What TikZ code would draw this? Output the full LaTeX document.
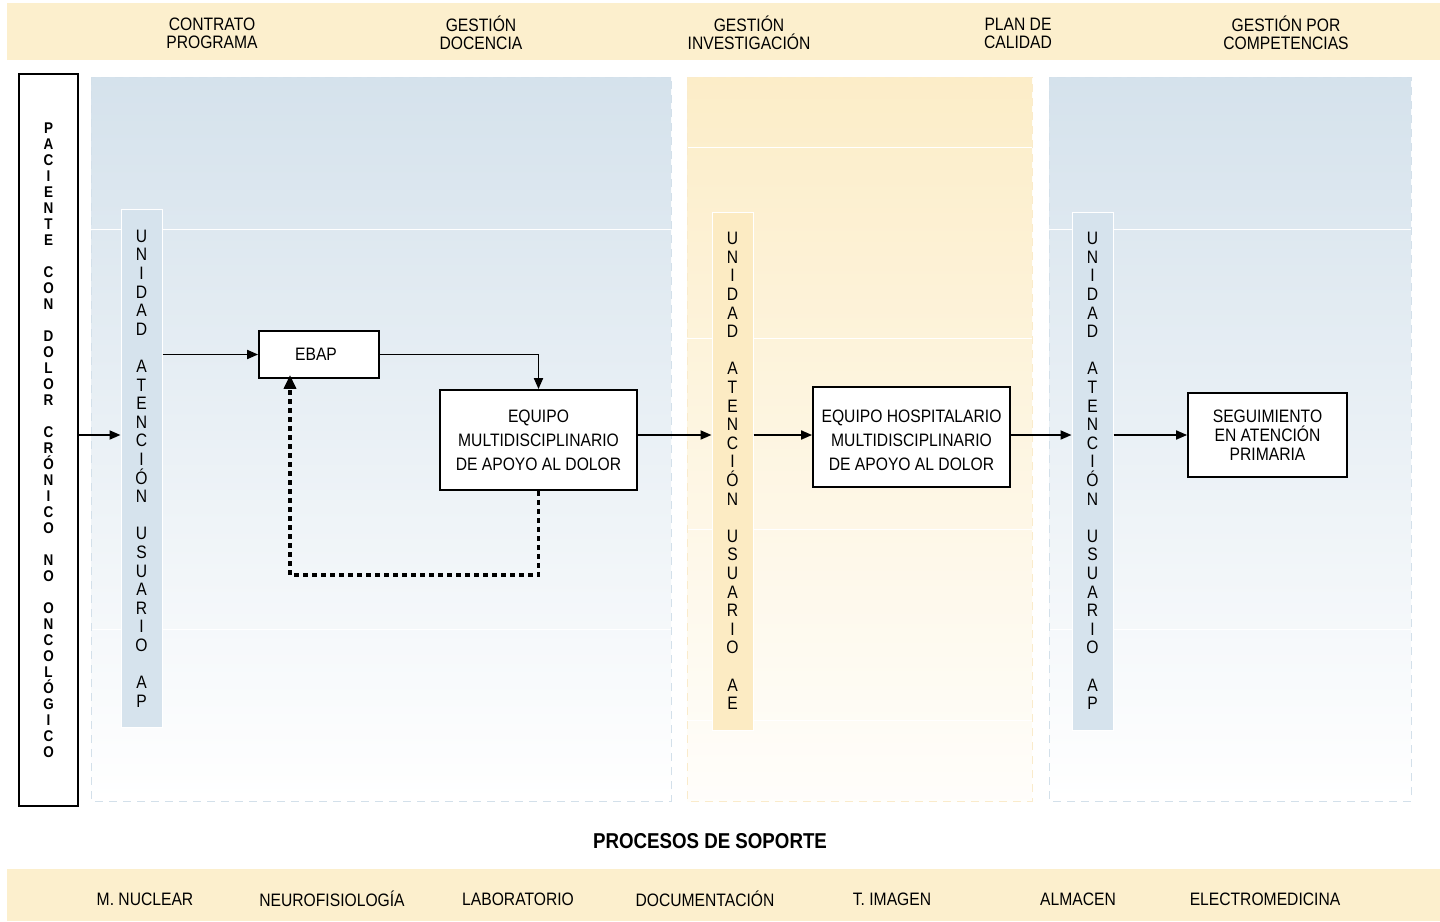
\documentclass[tikz,border=0pt]{standalone}
\usepackage{fontspec}
\setmainfont{Liberation Sans}[FakeStretch=0.87]
\usetikzlibrary{arrows.meta}

\definecolor{bandcream}{HTML}{FCEFCD}
\definecolor{panelblue}{HTML}{D5E2EC}
\definecolor{panelcream}{HTML}{FCEDC8}
\definecolor{stripblue}{HTML}{D6E3ED}
\definecolor{stripcream}{HTML}{FCEBC3}
\definecolor{edgeblue}{HTML}{D3E0EA}
\definecolor{edgecream}{HTML}{FAEBCB}

\newcommand\gap{\phantom{A}}
\newcommand\unidad[1]{U\\N\\I\\D\\A\\D\\\gap\\A\\T\\E\\N\\C\\I\\Ó\\N\\\gap\\U\\S\\U\\A\\R\\I\\O\\\gap\\#1}

\begin{document}
\begin{tikzpicture}[x=1pt,y=-1pt]
		\tikzset{box/.style = {draw,line width=1.8pt,fill=white,align=center,inner sep=0pt,font=\fontsize{18}{24}\selectfont}}
		\tikzset{strip/.style = {draw=white,line width=1pt,inner sep=0pt,align=center,minimum width=41pt,minimum height=518pt,font=\fontsize{18}{18.6}\selectfont}}
		\tikzset{head/.style = {align=center,inner sep=0pt,font=\fontsize{18}{18}\selectfont}}
		\tikzset{flow/.style = {-{Triangle[length=11pt,width=9pt]},line width=1.8pt}}
		\tikzset{feedback/.style = {-{Triangle[length=14pt,width=12pt]},line width=3.4pt,dash pattern=on 5pt off 4pt}}
		\useasboundingbox (0,0) rectangle (1440,921);
		% bands
		\fill[bandcream] (7,3) rectangle (1440,60);
		\fill[bandcream] (7,869) rectangle (1440,921);
		\foreach \x/\t in {212/{CONTRATO\\PROGRAMA},481/{GESTIÓN\\DOCENCIA},749/{GESTIÓN\\INVESTIGACIÓN},1018/{PLAN DE\\CALIDAD},1286/{GESTIÓN POR\\COMPETENCIAS}}
			\node[head] (h\x) at (\x,33) {\t};
		% panels
		\shade[top color=panelblue,bottom color=white] (91,77) rectangle (671,801);
		\shade[top color=panelcream,bottom color=white!60!panelcream!20] (687,77) rectangle (1032,801);
		\shade[top color=panelblue,bottom color=white] (1049,77) rectangle (1411,801);
		\foreach \y in {229,629} {
			\draw[white,line width=1pt] (91,\y) -- (671,\y);
			\draw[white,line width=1pt] (1049,\y) -- (1411,\y);
		}
		\foreach \y in {147,338,529,720}
			\draw[white,line width=1pt] (687,\y) -- (1032,\y);
		\draw[edgeblue,line width=1pt,dash pattern=on 8pt off 6pt] (91,77) rectangle (671,801);
		\draw[edgecream,line width=1pt,dash pattern=on 8pt off 6pt] (687,77) rectangle (1032,801);
		\draw[edgeblue,line width=1pt,dash pattern=on 8pt off 6pt] (1049,77) rectangle (1411,801);
		% nodes
		\node[draw,line width=1.8pt,fill=white,inner sep=0pt,minimum width=59pt,minimum height=732pt,align=center,font=\bfseries\fontsize{15.5}{16}\selectfont] (pac) at (48.5,440)
			{P\\A\\C\\I\\E\\N\\T\\E\\\gap\\C\\O\\N\\\gap\\D\\O\\L\\O\\R\\\gap\\C\\R\\Ó\\N\\I\\C\\O\\\gap\\N\\O\\\gap\\O\\N\\C\\O\\L\\Ó\\G\\I\\C\\O};
		\node[strip,fill=stripblue] (ap1) at (141.5,468.5) {\unidad{A\\P}};
		\node[strip,fill=stripcream] (ae) at (732.5,471) {\unidad{A\\E}};
		\node[strip,fill=stripblue] (ap2) at (1092.5,471) {\unidad{A\\P}};
		\node[box,minimum width=120pt,minimum height=47pt] (ebap) at (319,354.5) {EBAP\hspace{6pt}};
		\node[box,minimum width=197pt,minimum height=100pt] (equipo) at (538.5,440) {EQUIPO\\MULTIDISCIPLINARIO\\DE APOYO AL DOLOR};
		\node[box,minimum width=197pt,minimum height=100pt] (hosp) at (911.5,437) {\gap\\[-18pt]EQUIPO HOSPITALARIO\\MULTIDISCIPLINARIO\\DE APOYO AL DOLOR};
		\node[box,minimum width=159pt,minimum height=84pt,font=\fontsize{18}{19}\selectfont] (seg) at (1267.5,435) {SEGUIMIENTO\\EN ATENCIÓN\\PRIMARIA};
		\coordinate (axis) at (0,435);
		\coordinate (loop) at (290,575);
		% connectors
		\draw[flow] (pac.east |- axis) -- (ap1.west |- axis);
		\draw[flow] (ap1.east |- ebap.west) -- (ebap.west);
		\draw[flow] (ebap.east) -| (equipo.north);
		\draw[flow] (equipo.east |- axis) -- (ae.west |- axis);
		\draw[flow] (ae.east |- axis) -- (hosp.west |- axis);
		\draw[flow] (hosp.east |- axis) -- (ap2.west |- axis);
		\draw[flow] (ap2.east |- axis) -- (seg.west |- axis);
		\draw[feedback] (equipo.south) |- (loop) -- ([yshift=4pt]loop |- ebap.south);
		% support processes
		\node[head,font=\bfseries\fontsize{21.5}{21.5}\selectfont] (soporte) at (710,841) {PROCESOS DE SOPORTE};
		\foreach \x/\t in {145/M. NUCLEAR,332/NEUROFISIOLOGÍA,518/LABORATORIO,705/DOCUMENTACIÓN,892/T. IMAGEN,1078/ALMACEN,1265/ELECTROMEDICINA}
			\node[head] (s\x) at (\x,899) {\t};
	\end{tikzpicture}
\end{document}
